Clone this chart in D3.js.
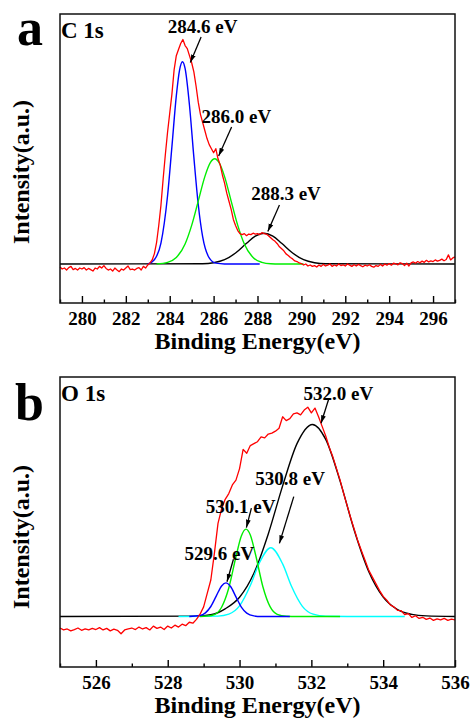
<!DOCTYPE html>
<html>
<head>
<meta charset="utf-8">
<script src="https://cdn.jsdelivr.net/npm/d3@7"></script>
<style>
  body { margin: 0; background: #fff; }
  text { font-family: "Liberation Serif", "Times New Roman", serif; font-weight: bold; fill: #000; }
</style>
</head>
<body>
<div id="chart"></div>
<script>
/* ---- panel a : C 1s ---- */
var c1sStart = 279, c1sStep = 0.1;
var c1sRaw = [
  -.015,-.025,-.02,-.03,-.018,-.012,-.028,-.022,-.03,-.02,
  -.025,-.018,-.03,-.022,-.028,-.035,-.02,-.025,-.012,-.02,
  -.008,-.022,-.03,-.025,-.035,-.02,-.03,-.038,-.025,-.03,
  -.02,-.01,-.028,-.025,-.03,-.022,-.018,-.03,-.012,-.02,
  -.005,.005,.02,.05,.105,.19,.29,.42,.54,.65,
  .745,.84,.96,1.03,1.06,1.09,1.11,1.08,1.065,1.03,
  .995,.95,.88,.8,.74,.7,.66,.62,.59,.57,
  .55,.57,.52,.49,.44,.4,.35,.31,.27,.22,
  .19,.165,.15,.145,.15,.14,.148,.145,.152,.148,
  .15,.145,.155,.15,.148,.14,.13,.12,.112,.1,
  .085,.075,.065,.05,.042,.032,.025,.015,.012,.005,
  .002,-.005,0,-.01,-.005,-.012,-.008,-.015,-.005,-.012,
  -.002,-.01,-.006,0,-.012,-.005,-.01,0,-.008,-.004,
  -.01,0,-.006,-.012,-.004,-.01,-.002,-.008,-.014,-.006,
  -.01,-.004,-.012,-.016,-.008,-.012,-.002,-.01,0,-.006,
  .002,-.006,.004,0,-.004,.006,.002,-.008,.004,-.01,
  .005,.01,.004,.012,.006,.014,.008,.018,.01,.015,
  .012,.02,.014,.018,.024,.016,.022,.045,.02,.03,
  .035
];
// fitted components [eV, intensity]
var c1sPeak2883 = [[279,0],[285.5,.001],[286.0,.006],[286.5,.021],[287.0,.054],[287.5,.102],[287.9,.138],[288.3,.152],[288.7,.138],[289.1,.102],[289.6,.054],[290.1,.021],[290.6,.006],[291.1,.001],[297,0]];
var c1sPeak2846 = [[283.0,0],[283.3,.021],[283.6,.103],[283.9,.336],[284.1,.58],[284.3,.831],[284.45,.96],[284.58,1],[284.7,.967],[284.9,.785],[285.1,.528],[285.3,.294],[285.5,.135],[285.8,.03],[286.1,.004],[286.5,0],[288.1,0]];
var c1sPeak2860 = [[283.4,0],[283.9,.008],[284.3,.032],[284.7,.099],[285.0,.191],[285.3,.311],[285.6,.432],[285.85,.501],[286.05,.52],[286.25,.501],[286.5,.432],[286.8,.311],[287.1,.191],[287.4,.099],[287.8,.032],[288.2,.008],[288.6,.001],[289.0,0],[290.1,0]];
var c1sMajor = [280, 282, 284, 286, 288, 290, 292, 294, 296];
var c1sMinor = [279, 281, 283, 285, 287, 289, 291, 293, 295, 297];
// labels: [text, eV, intensity, arrow from eV, from I, arrow to eV, to I]
var c1sNotes = [
  ["284.6 eV", 283.91, 1.142, 285.43, 1.122, 284.94, .996],
  ["286.0 eV", 285.45, .696, 286.82, .677, 286.23, .534],
  ["288.3 eV", 287.71, .316, 289.0, .292, 288.47, .16]
];

/* ---- panel b : O 1s ---- */
var o1sStart = 525, o1sStep = 0.1;
var o1sRaw = [
  -.06,-.07,-.065,-.075,-.068,-.06,-.072,-.064,-.07,-.062,
  -.068,-.058,-.07,-.062,-.075,-.066,-.072,-.09,-.07,-.064,
  -.06,-.068,-.055,-.065,-.058,-.07,-.05,-.062,-.055,-.068,
  -.05,-.06,-.045,-.055,-.04,-.048,-.03,-.035,-.015,.012,
  .05,.12,.19,.33,.485,.56,.61,.64,.685,.71,
  .77,.87,.85,.89,.9,.91,.935,.93,.95,.955,
  .965,.98,1.04,1.02,1.03,1.055,1.06,1.05,1.075,1.09,
  1.06,1.085,1.04,.99,.94,.88,.83,.77,.71,.64,
  .575,.51,.45,.39,.34,.29,.24,.205,.17,.135,
  .105,.085,.06,.05,.032,.03,.01,.015,-.005,.004,
  -.01,-.004,-.015,-.008,-.02,-.012,-.018,-.01,-.02,-.014,
  -.018
];
var o1sPeak5320 = [[525,0],[528.8,.002],[529.2,.009],[529.6,.04],[530.0,.10],[530.4,.225],[530.8,.43],[531.2,.68],[531.6,.9],[532.03,1],[532.4,.922],[532.8,.705],[533.2,.445],[533.6,.233],[534.0,.101],[534.4,.036],[534.8,.011],[535.2,.003],[536,0]];
var o1sPeak5308 = [[528.3,0],[529.4,.002],[529.7,.012],[530.0,.055],[530.3,.161],[530.55,.278],[530.87,.358],[531.2,.274],[531.45,.156],[531.75,.053],[532.05,.012],[532.4,.001],[533,0],[534.6,0]];
var o1sPeak5301 = [[528.9,0],[529.1,.002],[529.3,.01],[529.5,.048],[529.7,.148],[529.9,.311],[530.05,.419],[530.18,.455],[530.3,.424],[530.45,.319],[530.65,.155],[530.85,.051],[531.05,.011],[531.3,.001],[531.6,0],[532.8,0]];
var o1sPeak5296 = [[528.6,0],[528.9,.005],[529.05,.019],[529.2,.052],[529.35,.106],[529.5,.159],[529.62,.175],[529.75,.156],[529.9,.102],[530.05,.049],[530.2,.0175],[530.4,.003],[530.6,0],[531.4,0]];
var o1sMajor = [526, 528, 530, 532, 534, 536];
var o1sMinor = [525, 527, 529, 531, 533, 535];
var o1sNotes = [
  ["532.0 eV", 531.78, 1.128, 532.49, 1.136, 532.27, 1.006],
  ["530.8 eV", 530.44, .685, 531.51, .624, 531.11, .381],
  ["530.1 eV", 529.06, .539, 530.33, .564, 530.19, .4625],
  ["529.6 eV", 528.47, .294, 529.83, .298, 529.65, .181]
];

var svg = d3.select("#chart").append("svg")
  .attr("width", 471)
  .attr("height", 720);

svg.append("defs").append("marker")
  .attr("id", "arrow")
  .attr("viewBox", "0 0 10 10")
  .attr("refX", 10)
  .attr("refY", 5)
  .attr("markerWidth", 8)
  .attr("markerHeight", 8)
  .attr("markerUnits", "userSpaceOnUse")
  .attr("orient", "auto")
  .append("path")
  .attr("d", "M0,2L10,5L0,8Z")
  .attr("fill", "#000");

function drawPanel(p) {
  var x = d3.scaleLinear().domain(p.xDomain).range([60, 455]);
  var y = d3.scaleLinear().domain(p.yDomain).range([p.bottom, p.top]);
  var g = svg.append("g");

  var smooth = d3.line().x(d => x(d[0])).y(d => y(d[1])).curve(d3.curveMonotoneX);
  var line = d3.line().x(d => x(d[0])).y(d => y(d[1]));

  /* fitted peaks */
  p.fits.forEach(f => {
    g.append("path")
      .datum(f[0])
      .attr("d", smooth)
      .attr("fill", "none")
      .attr("stroke", f[1])
      .attr("stroke-width", 1.4);
  });

  /* measured spectrum */
  var raw = p.raw.map((v, i) => [p.start + i * p.step, v]);
  g.append("path")
    .datum(raw)
    .attr("d", line)
    .attr("fill", "none")
    .attr("stroke", "#ff0000")
    .attr("stroke-width", 1.3)
    .attr("stroke-linejoin", "round");

  /* axes */
  var xAxis = d3.axisBottom(x)
    .tickValues(p.major)
    .tickFormat(d3.format("d"))
    .tickSizeInner(-7)
    .tickSizeOuter(0)
    .tickPadding(9);
  var ax = g.append("g")
    .attr("transform", `translate(0, ${p.bottom})`)
    .call(xAxis);
  ax.select(".domain").remove();
  ax.selectAll("line").attr("stroke", "#000").attr("stroke-width", 1.4);
  ax.selectAll("text")
    .attr("font-size", 19)
    .attr("fill", "#000")
    .style("font-family", '"Liberation Serif", serif')
    .style("font-weight", "bold");

  var minor = g.append("g")
    .attr("transform", `translate(0, ${p.bottom})`)
    .call(d3.axisBottom(x).tickValues(p.minor).tickFormat("").tickSizeInner(-3.5).tickSizeOuter(0));
  minor.select(".domain").remove();
  minor.selectAll("line").attr("stroke", "#000").attr("stroke-width", 1.4);

  /* frame */
  g.append("rect")
    .attr("x", 60)
    .attr("y", p.top)
    .attr("width", 395)
    .attr("height", p.bottom - p.top)
    .attr("fill", "none")
    .attr("stroke", "#111")
    .attr("stroke-width", 1.5);

  /* peak labels */
  p.notes.forEach(n => {
    g.append("text")
      .attr("x", x(n[1]))
      .attr("y", y(n[2]))
      .attr("font-size", 19)
      .attr("fill", "#000")
      .text(n[0]);
    g.append("line")
      .attr("x1", x(n[3]))
      .attr("y1", y(n[4]))
      .attr("x2", x(n[5]))
      .attr("y2", y(n[6]))
      .attr("stroke", "#000")
      .attr("stroke-width", 1.3)
      .attr("marker-end", "url(#arrow)");
  });

  g.append("text")
    .attr("x", x(p.xDomain[0]) + 1)
    .attr("y", p.top + 24)
    .attr("font-size", 23)
    .attr("fill", "#000")
    .text(p.title);

  g.append("text")
    .attr("x", p.letterX)
    .attr("y", p.top + p.letterDy)
    .attr("font-size", 52)
    .attr("fill", "#000")
    .text(p.letter);

  g.append("text")
    .attr("x", 257.5)
    .attr("y", p.bottom + 46)
    .attr("text-anchor", "middle")
    .attr("font-size", 24)
    .attr("fill", "#000")
    .text("Binding Energy(eV)");

  g.append("text")
    .attr("transform", `translate(29, ${p.labelY}) rotate(-90)`)
    .attr("text-anchor", "middle")
    .attr("font-size", 24)
    .attr("fill", "#000")
    .text("Intensity(a.u.)");
}

drawPanel({
  xDomain: [279, 297], yDomain: [-0.193, 1.236], top: 14, bottom: 303,
  raw: c1sRaw, start: c1sStart, step: c1sStep,
  fits: [[c1sPeak2883, "#000"], [c1sPeak2846, "#0000ff"], [c1sPeak2860, "#00ee00"]],
  major: c1sMajor, minor: c1sMinor, notes: c1sNotes,
  title: "C 1s", letter: "a", letterX: 17, letterDy: 31, labelY: 172
});

drawPanel({
  xDomain: [525, 536], yDomain: [-0.263, 1.247], top: 377, bottom: 667,
  raw: o1sRaw, start: o1sStart, step: o1sStep,
  fits: [[o1sPeak5320, "#000"], [o1sPeak5308, "#00ffff"], [o1sPeak5301, "#00ee00"], [o1sPeak5296, "#0000ff"]],
  major: o1sMajor, minor: o1sMinor, notes: o1sNotes,
  title: "O 1s", letter: "b", letterX: 15, letterDy: 43, labelY: 537
});
</script>
</body>
</html>
